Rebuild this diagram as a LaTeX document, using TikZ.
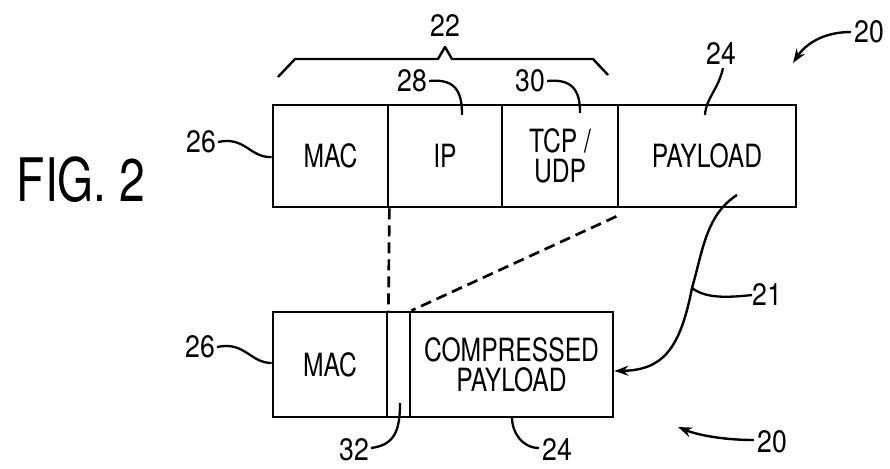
\documentclass[tikz,border=0pt]{standalone}
\usepackage{fontspec}
\newfontfamily\pf[FakeStretch=0.77]{TeX Gyre Heros}
\newfontfamily\nf[FakeStretch=0.86]{TeX Gyre Heros}
\usetikzlibrary{arrows.meta}
\begin{document}
\begin{tikzpicture}[x=1pt,y=-1pt,
  cell/.style={draw,line width=2.8pt,inner sep=0pt,align=center,font=\pf\fontsize{32}{34}\selectfont},
  lbl/.style={inner sep=0pt,font=\nf\fontsize{31}{33}\selectfont},
  lead/.style={line width=2.3pt},
  dsh/.style={line width=2.7pt,dash pattern=on 11pt off 6pt},
  arr/.style={line width=2.4pt,-{Stealth[length=14pt,width=10pt]}}]
\useasboundingbox (0,0) rectangle (890,468);
% top packet
\node[cell,minimum width=115pt,minimum height=102pt] (mac1) at (330.5,156) {MAC};
\node[cell,minimum width=114pt,minimum height=102pt] (ip) at (445,156) {IP};
\node[cell,minimum width=116pt,minimum height=102pt] (tcp) at (560,156) {TCP /\\[-4pt]UDP};
\node[cell,minimum width=178pt,minimum height=102pt] (pay) at (707,156) {PAYLOAD};
% bottom packet
\node[cell,minimum width=114pt,minimum height=105pt] (mac2) at (330,364.5) {MAC};
\node[cell,minimum width=23pt,minimum height=105pt] (hdr) at (398.5,364.5) {};
\node[cell,minimum width=203pt,minimum height=105pt] (cpay) at (511.5,364.5) {COMPRESSED\\[-4pt]PAYLOAD};
% title
\node[inner sep=0pt,font=\pf\fontsize{60}{62}\selectfont] (fig) at (81,180) {FIG. 2};
% labels
\node[lbl] (l22) at (445,26) {22};
\node[lbl] (l28) at (412,81) {28};
\node[lbl] (l30) at (530,81) {30};
\node[lbl] (l24a) at (721,54) {24};
\node[lbl] (l20a) at (869,32) {20};
\node[lbl] (l26a) at (201,142) {26};
\node[lbl] (l26b) at (200,347) {26};
\node[lbl] (l32) at (354,450) {32};
\node[lbl] (l24b) at (557,450) {24};
\node[lbl] (l20b) at (772,442) {20};
\node[lbl] (l21) at (767,295) {21};
% coordinates
\coordinate (b28) at (462,115);
\coordinate (b30) at (580,113);
\coordinate (b24a) at (705,115);
\coordinate (t20a) at (793,63);
\coordinate (b26a) at (mac1.west |- 0,157);
\coordinate (b26b) at (mac2.west |- 0,363);
\coordinate (b32) at (400,403);
\coordinate (b24b) at (512,418);
\coordinate (t20b) at (678,427);
\coordinate (s21) at (737,195);
\coordinate (m21) at (692,288);
\coordinate (e21) at (cpay.east |- 0,371);
% brace
\draw[line width=2.4pt,line join=round] (278,77) -- (295,59) -- (438,59) -- (445,47) -- (452,59) -- (593,59) -- (608,75);
% dashed projections
\draw[dsh] (mac1.south east) -- (mac2.north east);
\draw[dsh] (tcp.south east) ++(-3,8) -- (hdr.north east);
% leaders
\draw[lead] (l28.east) ++(2,0) .. controls (458,78) and (462,95) .. (b28);
\draw[lead] (l30.east) ++(2,0) .. controls (576,78) and (580,95) .. (b30);
\draw[lead] (l24a.south) ++(2,3) .. controls (718,90) and (706,98) .. (b24a);
\draw[lead] (l26a.east) ++(2,0) .. controls (245,136) and (250,158) .. (b26a);
\draw[lead] (l26b.east) ++(2,0) .. controls (245,341) and (250,363) .. (b26b);
\draw[lead] (l32.east) ++(2,-2) .. controls (395,445) and (400,430) .. (b32);
\draw[lead] (l24b.west) ++(-3,-2) .. controls (522,448) and (512,432) .. (b24b);
\draw[lead] (m21) .. controls (705,298) and (725,298) .. (l21.west);
% arrows
\draw[arr] (l20a.west) ++(-3,0) .. controls (822,32) and (805,45) .. (t20a);
\draw[arr] (l20b.west) ++(-3,-2) .. controls (720,440) and (695,434) .. (t20b);
\draw[arr] (s21) .. controls (706,215) and (703,250) .. (m21) .. controls (680,350) and (662,370) .. (e21);
\end{tikzpicture}
\end{document}
